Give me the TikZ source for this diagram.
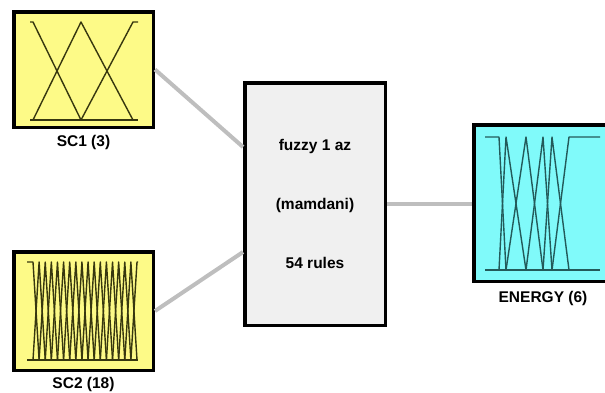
\documentclass[tikz,border=0pt]{standalone}
\usepackage{fontspec}
\setmainfont{Liberation Sans}
\usetikzlibrary{positioning}
\definecolor{fisyellow}{RGB}{253,250,135}
\definecolor{fiscyan}{RGB}{128,250,250}
\definecolor{fisgray}{RGB}{240,240,240}
\definecolor{linkgray}{RGB}{190,190,190}
\definecolor{mfolive}{RGB}{55,55,15}
\definecolor{mfteal}{RGB}{35,90,90}

\begin{document}
\begin{tikzpicture}[x=1pt, y=-1pt]
\tikzstyle{every node} = [inner sep=0pt, font=\fontsize{15.5}{18}\selectfont\bfseries]
\tikzstyle{fis} = [rectangle, draw=black, line width=3.5pt]
\tikzstyle{link} = [linkgray, line width=4pt]
\tikzstyle{mf} = [line width=1.4pt, line join=round]
\useasboundingbox (0,0) rectangle (605,392);
\clip (0,0) rectangle (605,392);

% boxes
\node[fis, fill=fisyellow, minimum width=139.5pt, minimum height=115.5pt] (sc1) at (83.5,69.5) {};
\node[fis, fill=fisyellow, minimum width=139.5pt, minimum height=118.5pt] (sc2) at (83.5,311) {};
\node[fis, fill=fisgray, minimum width=140.5pt, minimum height=242.5pt, align=center,
  font=\fontsize{15.5}{59}\selectfont\bfseries] (rules) at (315,204) {fuzzy 1 az\\(mamdani)\\54 rules};
\node[fis, fill=fiscyan, minimum width=138.5pt, minimum height=156.5pt] (energy) at (543,203) {};

% labels
\node[below=6pt of sc1] (sc1lbl) {SC1 (3)};
\node[below=5pt of sc2] (sc2lbl) {SC2 (18)};
\node[below=8pt of energy] (energylbl) {ENERGY (6)};

% links
\draw[link] (sc1.east) -- ([yshift=57pt]rules.west);
\draw[link] (sc2.east) -- ([yshift=-48pt]rules.west);
\draw[link] (rules.east) -- (rules.east -| energy.west);

% SC1 membership functions
\draw[mf, mfolive] (30,120) -- (138,120);
\draw[mf, mfolive] (30,22) -- (33,22) -- (81,120);
\draw[mf, mfolive] (33,120) -- (81,22) -- (133,120);
\draw[mf, mfolive] (81,120) -- (133,22) -- (138,22);

% SC2 membership functions
\draw[mf, mfolive] (27,360) -- (138,360);
\draw[mf, mfolive] (27,262) -- (33,262) -- (39.118,360);
\foreach \k in {1,...,16}
  \draw[mf, mfolive] ({33+(\k-1)*6.118},360) -- ({33+\k*6.118},262) -- ({33+(\k+1)*6.118},360);
\draw[mf, mfolive] (130.882,360) -- (137,262) -- (138,262);

% ENERGY membership functions
\draw[mf, mfteal] (485,270) -- (600,270);
\draw[mf, mfteal] (485,137) -- (499,137) -- (506,270);
\draw[mf, mfteal] (499,270) -- (506,137) -- (526,270);
\draw[mf, mfteal] (506,270) -- (526,137) -- (543,270);
\draw[mf, mfteal] (526,270) -- (543,137) -- (552,270);
\draw[mf, mfteal] (543,270) -- (552,137) -- (569,270);
\draw[mf, mfteal] (552,270) -- (569,137) -- (600,137);
\end{tikzpicture}
\end{document}
